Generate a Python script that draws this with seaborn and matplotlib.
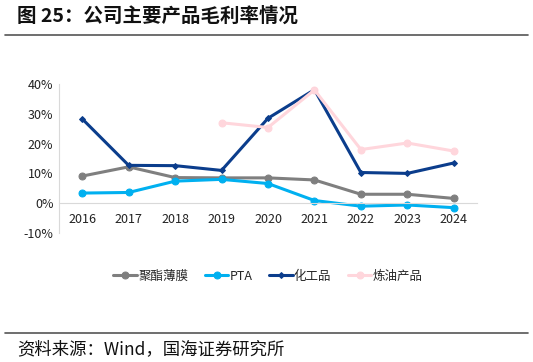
import numpy as np
import pandas as pd
import matplotlib
matplotlib.use("Agg")
import matplotlib.pyplot as plt
import seaborn as sns

# 数据（从图中读取的估计值，单位 %）
years = ["2016", "2017", "2018", "2019", "2020", "2021", "2022", "2023", "2024"]
film = [9.1, 12.2, 8.6, 8.5, 8.5, 7.8, 3.0, 3.0, 1.6]
pta = [3.4, 3.6, 7.4, 8.0, 6.6, 0.9, -1.0, -0.6, -1.5]
chem = [28.3, 12.7, 12.6, 11.0, 28.5, 38.1, 10.3, 10.0, 13.5]
refine = [np.nan, np.nan, np.nan, 27.0, 25.4, 38.0, 18.0, 20.2, 17.5]

series_names = ["聚酯薄膜", "PTA", "化工品", "炼油产品"]
series_vals = [film, pta, chem, refine]
colors = ["#7f7f7f", "#00b0f0", "#0b3d8c", "#ffd6dc"]
markers = ["o", "o", "D", "o"]
msizes = [5, 5, 3, 5]

sns.set_style("white")
plt.rcParams["font.family"] = ["Noto Sans CJK SC", "DejaVu Sans"]

fig = plt.figure(figsize=(5.33, 3.62), dpi=100)

# 标题与分隔线
fig.text(17 / 533, 1 - 16 / 362, "图 25：公司主要产品毛利率情况", fontsize=14,
         fontweight="bold", va="center", ha="left", color="#111111")
fig.add_artist(plt.Line2D([5 / 533, 528 / 533], [1 - 35 / 362] * 2,
                          color="#555555", lw=1.2))
fig.add_artist(plt.Line2D([5 / 533, 528 / 533], [1 - 333 / 362] * 2,
                          color="#555555", lw=1.2))
fig.text(17 / 533, 1 - 349 / 362, "资料来源：Wind，国海证券研究所", fontsize=12.5,
         va="center", ha="left", color="#111111")

ax = fig.add_axes([59 / 533, 1 - 233 / 362, (477 - 59) / 533, (233 - 84) / 362])

x = np.arange(len(years))
for name, vals, c, m, ms in zip(series_names, series_vals, colors, markers, msizes):
    df = pd.DataFrame({"x": x, "y": vals}).dropna()
    sns.lineplot(data=df, x="x", y="y", ax=ax, color=c, marker=m, markersize=ms,
                 markeredgecolor=c, linewidth=2.2, label=name)

ax.set_xlim(-0.5, len(years) - 0.5)
ax.set_ylim(-10, 40)
ax.set_yticks([-10, 0, 10, 20, 30, 40])
ax.set_yticklabels([f"{v}%" for v in [-10, 0, 10, 20, 30, 40]])
ax.set_xticks(x)
ax.set_xticklabels(years)
ax.set_xlabel("")
ax.set_ylabel("")

for s in ["top", "right"]:
    ax.spines[s].set_visible(False)
ax.spines["bottom"].set_position(("data", 0))
ax.spines["bottom"].set_color("#d9d9d9")
ax.spines["left"].set_color("#d9d9d9")
ax.tick_params(axis="both", length=0, labelsize=9, colors="#222222")
ax.tick_params(axis="x", pad=7)
ax.tick_params(axis="y", pad=4)
ax.grid(False)

ax.legend(loc="upper center", bbox_to_anchor=(0.5, -0.17), ncol=4, frameon=False,
          fontsize=9, handlelength=1.9, columnspacing=1.3, handletextpad=0.1)

fig.savefig("out.png", dpi=100)
